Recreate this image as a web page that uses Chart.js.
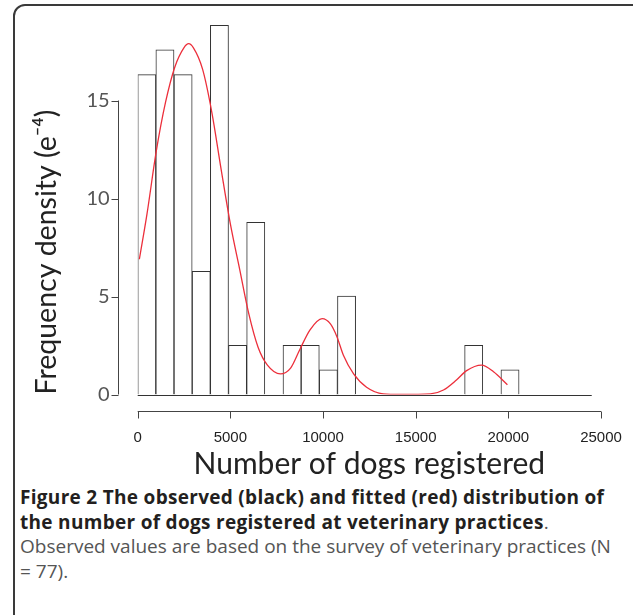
<!DOCTYPE html>
<html>
<head>
<meta charset="utf-8">
<script src="https://cdn.jsdelivr.net/npm/chart.js@4.4.1/dist/chart.umd.min.js"></script>
<style>
  html, body { margin: 0; padding: 0; background: #fff; overflow: hidden; }
  #page { position: relative; width: 633px; height: 615px; overflow: hidden; }
  #frame { position: absolute; left: 13px; top: 4px; width: 640px; height: 624px;
           border: 2px solid #3a3a3a; border-radius: 12px; box-sizing: border-box; }
  #plot { position: absolute; left: 0; top: 0; width: 633px; height: 482px; }
  #caption { position: absolute; left: 20px; top: 485px; font-family: 'Open Sans', sans-serif;
             font-size: 19px; line-height: 24.5px; color: #555; white-space: nowrap; }
  #caption b { color: #231f20; letter-spacing: 0.3px; }
</style>
</head>
<body>
<div id="page">
  <div id="frame"></div>
  <div id="plot"><canvas id="hist-chart"></canvas></div>
  <div id="caption">
    <b>Figure 2 The observed (black) and fitted (red) distribution of</b><br>
    <b>the number of dogs registered at veterinary practices</b>.<br>
    Observed values are based on the survey of veterinary practices (N<br>
    = 77).
  </div>
</div>
<script>
// histogram bins (width in dogs) and observed frequency density (e-4)
const binWidth = 980;
const binDensity = [16.32, 17.58, 16.32, 6.28, 18.84, 2.51, 8.79, 0, 2.51, 2.51, 1.26, 5.02,
                    0, 0, 0, 0, 0, 0, 2.51, 0, 1.26, 0, 0, 0, 0];

// fitted density curve (red)
const fitX = [90, 500, 1000, 1500, 2000, 2500, 2750, 3000, 3500, 4000, 4500, 5000, 5500, 6000,
              6500, 7000, 7700, 8250, 8750, 9300, 9950, 10400, 10750, 11100, 11650, 12350,
              13250, 14200, 15800, 16500, 17200, 17750, 18550, 19200, 19950];
const fitY = [6.9, 9.2, 12.4, 14.9, 16.7, 17.7, 17.9, 17.7, 16.6, 14.4, 11.5, 8.7, 6.4, 4.1,
              2.4, 1.5, 1.05, 1.35, 2.3, 3.3, 3.87, 3.6, 2.95, 2.0, 1.05, 0.37,
              0.03, 0, 0.03, 0.23, 0.74, 1.22, 1.5, 1.16, 0.5];

const xTicks = [0, 5000, 10000, 15000, 20000, 25000];
const yTicks = [0, 5, 10, 15];

const axisColor = '#444';

// R style axes: detached from the plot area, line only spans the ticks
const rAxes = {
    id: 'rAxes',
    afterDatasetDraw(chart, args) {
        if (args.meta.type !== 'bar') return;
        const {ctx, scales: {x, y}} = chart;
        const y0 = Math.round(y.getPixelForValue(0)) + 0.5;
        ctx.save();
        ctx.strokeStyle = '#333';
        ctx.lineWidth = 1.2;
        ctx.beginPath();
        ctx.moveTo(x.getPixelForValue(0), y0);
        ctx.lineTo(x.getPixelForValue(binDensity.length * binWidth), y0);
        ctx.stroke();
        ctx.restore();
    },
    afterDraw(chart) {
        const {ctx, chartArea, scales: {x, y}} = chart;
        ctx.save();
        ctx.strokeStyle = axisColor;
        ctx.lineWidth = 1;
        ctx.beginPath();
        const ax = Math.round(chartArea.left - 20) + 0.5;
        ctx.moveTo(ax, y.getPixelForValue(yTicks[0]));
        ctx.lineTo(ax, y.getPixelForValue(yTicks[yTicks.length - 1]));
        yTicks.forEach(v => {
            const py = Math.round(y.getPixelForValue(v)) + 0.5;
            ctx.moveTo(ax, py);
            ctx.lineTo(ax - 7, py);
        });
        const ay = Math.round(chartArea.bottom + 16) + 0.5;
        ctx.moveTo(x.getPixelForValue(xTicks[0]), ay);
        ctx.lineTo(x.getPixelForValue(xTicks[xTicks.length - 1]), ay);
        xTicks.forEach(v => {
            const px = Math.round(x.getPixelForValue(v)) + 0.5;
            ctx.moveTo(px, ay);
            ctx.lineTo(px, ay + 7);
        });
        ctx.stroke();
        ctx.restore();
    }
};

function noPadding(scale) {
    scale.paddingTop = 0;
    scale.paddingBottom = 0;
    scale.paddingLeft = 0;
    scale.paddingRight = 0;
}

new Chart(document.getElementById('hist-chart'), {
    data: {
        datasets: [{
            type: 'line',
            label: 'fitted',
            data: fitX.map((v, i) => ({x: v, y: fitY[i]})),
            borderColor: '#ec2f3b',
            borderWidth: 1.3,
            pointRadius: 0,
            fill: false,
            cubicInterpolationMode: 'monotone',
            order: 0
        }, {
            type: 'bar',
            label: 'observed',
            data: binDensity.map((v, i) => ({x: (i + 0.5) * binWidth, y: v})),
            backgroundColor: '#fff',
            borderColor: '#333',
            borderWidth: 1,
            barPercentage: 1,
            categoryPercentage: 1,
            order: 1
        }]
    },
    options: {
        responsive: true,
        maintainAspectRatio: false,
        animation: false,
        events: [],
        layout: { padding: { left: 30, top: 22.1, right: 32, bottom: 0 } },
        plugins: {
            legend: { display: false },
            tooltip: { enabled: false }
        },
        scales: {
            x: {
                type: 'linear',
                min: 0,
                max: 25000,
                offset: false,
                grid: { display: false, drawTicks: false },
                border: { display: false },
                afterBuildTicks: s => { s.ticks = xTicks.map(v => ({value: v})); },
                ticks: {
                    color: '#222',
                    font: { family: 'Liberation Sans', size: 15 },
                    padding: 34,
                    maxRotation: 0,
                    autoSkip: false,
                    callback: v => String(v)
                },
                title: {
                    display: true,
                    text: 'Number of dogs registered',
                    color: '#222',
                    font: { family: 'Lato', size: 30 },
                    padding: { top: 0, bottom: 0 }
                },
                afterFit: s => { s.height = 87.5; noPadding(s); }
            },
            y: {
                type: 'linear',
                min: 0,
                max: 19,
                grid: { display: false, drawTicks: false },
                border: { display: false },
                afterBuildTicks: s => { s.ticks = yTicks.map(v => ({value: v})); },
                ticks: {
                    color: '#555',
                    font: { family: 'Lato', size: 20 },
                    padding: 28
                },
                title: {
                    display: true,
                    text: 'Frequency density (e⁻⁴)',
                    color: '#222',
                    align: 'start',
                    font: { family: 'Lato', size: 28.5 },
                    padding: { top: 0, bottom: 0 }
                },
                afterFit: s => { s.width = 107.7; noPadding(s); }
            }
        }
    },
    plugins: [rAxes]
});
</script>
</body>
</html>
